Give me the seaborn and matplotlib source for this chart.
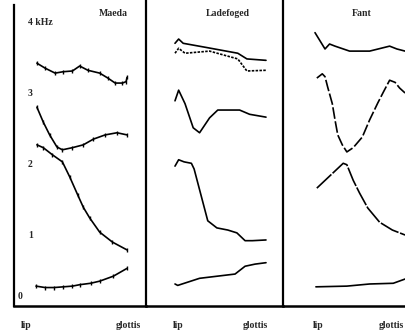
import matplotlib
matplotlib.use("Agg")
import matplotlib.pyplot as plt
import seaborn as sns
import numpy as np
import pandas as pd

# ---------------- data (kHz vs normalized position lip=0 .. glottis=1) -------------
panels = ["Maeda", "Ladefoged", "Fant"]

# Maeda
maeda_f4_x = [0.01, 0.10, 0.21, 0.30, 0.40, 0.48, 0.57, 0.70, 0.79, 0.87, 0.95, 0.99, 1.0]
maeda_f4_y = [3.42, 3.35, 3.28, 3.30, 3.31, 3.38, 3.32, 3.28, 3.21, 3.14, 3.14, 3.16, 3.22]
maeda_f3_x = [0.01, 0.08, 0.15, 0.23, 0.29, 0.40, 0.52, 0.63, 0.76, 0.89, 1.0]
maeda_f3_y = [2.80, 2.59, 2.41, 2.24, 2.20, 2.23, 2.27, 2.35, 2.41, 2.44, 2.41]
maeda_f2_x = [0.01, 0.08, 0.18, 0.29, 0.37, 0.46, 0.52, 0.59, 0.70, 0.84, 1.0]
maeda_f2_y = [2.27, 2.23, 2.13, 2.03, 1.82, 1.56, 1.39, 1.24, 1.04, 0.90, 0.79]
maeda_f1_x = [0, 0.1, 0.2, 0.3, 0.4, 0.48, 0.6, 0.7, 0.85, 1.0]
maeda_f1_y = [0.28, 0.26, 0.26, 0.27, 0.28, 0.30, 0.32, 0.35, 0.42, 0.53]

# Ladefoged
lade_f4a_x = [0, 0.04, 0.09, 0.35, 0.69, 0.79, 1.0]
lade_f4a_y = [3.70, 3.76, 3.70, 3.64, 3.56, 3.48, 3.46]
lade_f4b_x = [0, 0.04, 0.11, 0.38, 0.69, 0.79, 1.0]
lade_f4b_y = [3.56, 3.63, 3.56, 3.59, 3.48, 3.31, 3.32]
lade_f3_x = [0, 0.04, 0.11, 0.20, 0.27, 0.38, 0.47, 0.71, 0.82, 1.0]
lade_f3_y = [2.89, 3.04, 2.85, 2.51, 2.44, 2.65, 2.76, 2.76, 2.70, 2.66]
lade_f2_x = [0, 0.04, 0.1, 0.18, 0.21, 0.36, 0.46, 0.58, 0.68, 0.77, 0.85, 1.0]
lade_f2_y = [1.97, 2.06, 2.03, 2.01, 1.93, 1.20, 1.10, 1.07, 1.03, 0.92, 0.92, 0.93]
lade_f1_x = [0, 0.03, 0.27, 0.66, 0.77, 0.88, 1.0]
lade_f1_y = [0.31, 0.29, 0.39, 0.45, 0.56, 0.59, 0.61]

# Fant
fant_f4_x = [0, 0.11, 0.16, 0.22, 0.38, 0.60, 0.82, 0.90, 0.99]
fant_f4_y = [3.85, 3.62, 3.69, 3.66, 3.59, 3.59, 3.66, 3.62, 3.59]
fant_f3_x = [0.02, 0.08, 0.11, 0.14, 0.19, 0.22, 0.25, 0.30, 0.35, 0.42, 0.52,
             0.60, 0.69, 0.75, 0.82, 0.88, 0.93, 0.99]
fant_f3_y = [3.21, 3.27, 3.23, 3.08, 2.85, 2.62, 2.41, 2.27, 2.17, 2.23, 2.38,
             2.62, 2.86, 3.01, 3.18, 3.15, 3.07, 3.00]
fant_f2_x = [0.02, 0.31, 0.35, 0.42, 0.49, 0.58, 0.71, 0.85, 0.99]
fant_f2_y = [1.66, 2.01, 1.99, 1.77, 1.59, 1.38, 1.18, 1.07, 1.00]
fant_f1_x = [0.01, 0.35, 0.60, 0.86, 0.99]
fant_f1_y = [0.27, 0.28, 0.31, 0.32, 0.38]

ytick_vals = [0.42, 1, 2, 3, 3.55, 4]
ytick_labels = ["", "1", "2", "3", "", "4 kHz"]
end_labels = ["lip", "glottis"]

# ---------------- figure -------------------------------------------------------------
sns.set_style("white")
plt.rcParams["font.family"] = ["Liberation Serif", "DejaVu Serif"]
plt.rcParams["font.weight"] = "bold"

W, H = 405, 333
fig = plt.figure(figsize=(W / 100, H / 100), dpi=100)
fig.patch.set_facecolor("white")

px_per_unit = 91.0
base_px = 306.0
top_khz = base_px / 71.0
# (axes left px, axes right px, pixel of x=0)
geom = [(14, 146, 36), (146, 283, 175), (283, 405, 315)]
end_pos = [(-0.11, 1.01), (0.04, 0.88), (0.03, 0.84)]
title_x = [0.85, 0.58, 0.51]

series = [
    [(maeda_f4_x, maeda_f4_y, "-"), (maeda_f3_x, maeda_f3_y, "-"),
     (maeda_f2_x, maeda_f2_y, "-"), (maeda_f1_x, maeda_f1_y, "-")],
    [(lade_f4a_x, lade_f4a_y, "-"), (lade_f4b_x, lade_f4b_y, (0, (1.5, 0.8))),
     (lade_f3_x, lade_f3_y, "-"), (lade_f2_x, lade_f2_y, "-"), (lade_f1_x, lade_f1_y, "-")],
    [(fant_f4_x, fant_f4_y, "-"), (fant_f3_x, fant_f3_y, (0, (7, 1.5))),
     (fant_f2_x, fant_f2_y, (0, (12, 1))), (fant_f1_x, fant_f1_y, "-")],
]

for i, (name, (l, r, x0)) in enumerate(zip(panels, geom)):
    ax = fig.add_axes([l / W, (H - base_px) / H, (r - l) / W, base_px / H])
    ax.set_facecolor("none")
    for xs, ys, ls in series[i]:
        df = pd.DataFrame({"x": xs, "y": ys})
        kw = {}
        if i == 0:
            kw = dict(marker="|", markersize=3.5, markeredgewidth=1.0, markeredgecolor="black")
        sns.lineplot(data=df, x="x", y="y", ax=ax, color="black", linewidth=1.2,
                     linestyle=ls, estimator=None, sort=False, **kw)
    ax.set_xlim(-(x0 - l) / px_per_unit, (r - x0) / px_per_unit)
    ax.set_ylim(0, top_khz)
    ax.set_xlabel("")
    ax.set_ylabel("")
    for s in ["top", "right"]:
        ax.spines[s].set_visible(False)
    ax.spines["left"].set_linewidth(1.6)
    ax.spines["bottom"].set_linewidth(1.8)
    ax.spines["left"].set_color("black")
    ax.spines["bottom"].set_color("black")
    ax.set_xticks(list(end_pos[i]))
    ax.set_xticklabels(end_labels, fontsize=7, fontweight="bold")
    ax.tick_params(axis="x", length=0, pad=11)
    if i == 0:
        ax.spines["left"].set_bounds(0, top_khz - 0.07)
        ax.set_yticks(ytick_vals)
        ax.set_yticklabels(ytick_labels, fontsize=7, fontweight="bold")
        ax.tick_params(axis="y", direction="in", length=3.5, width=1.0, pad=-10)
        for t in ax.get_yticklabels():
            t.set_horizontalalignment("left")
        ax.text(-0.18, 0.13, "0", fontsize=7, fontweight="bold", ha="center", va="center")
    else:
        ax.set_yticks([])
    ax.text(title_x[i], top_khz - 13 / 71.0, name, fontsize=7, fontweight="bold",
            ha="center", va="center")

fig.savefig("out.png", dpi=100)
